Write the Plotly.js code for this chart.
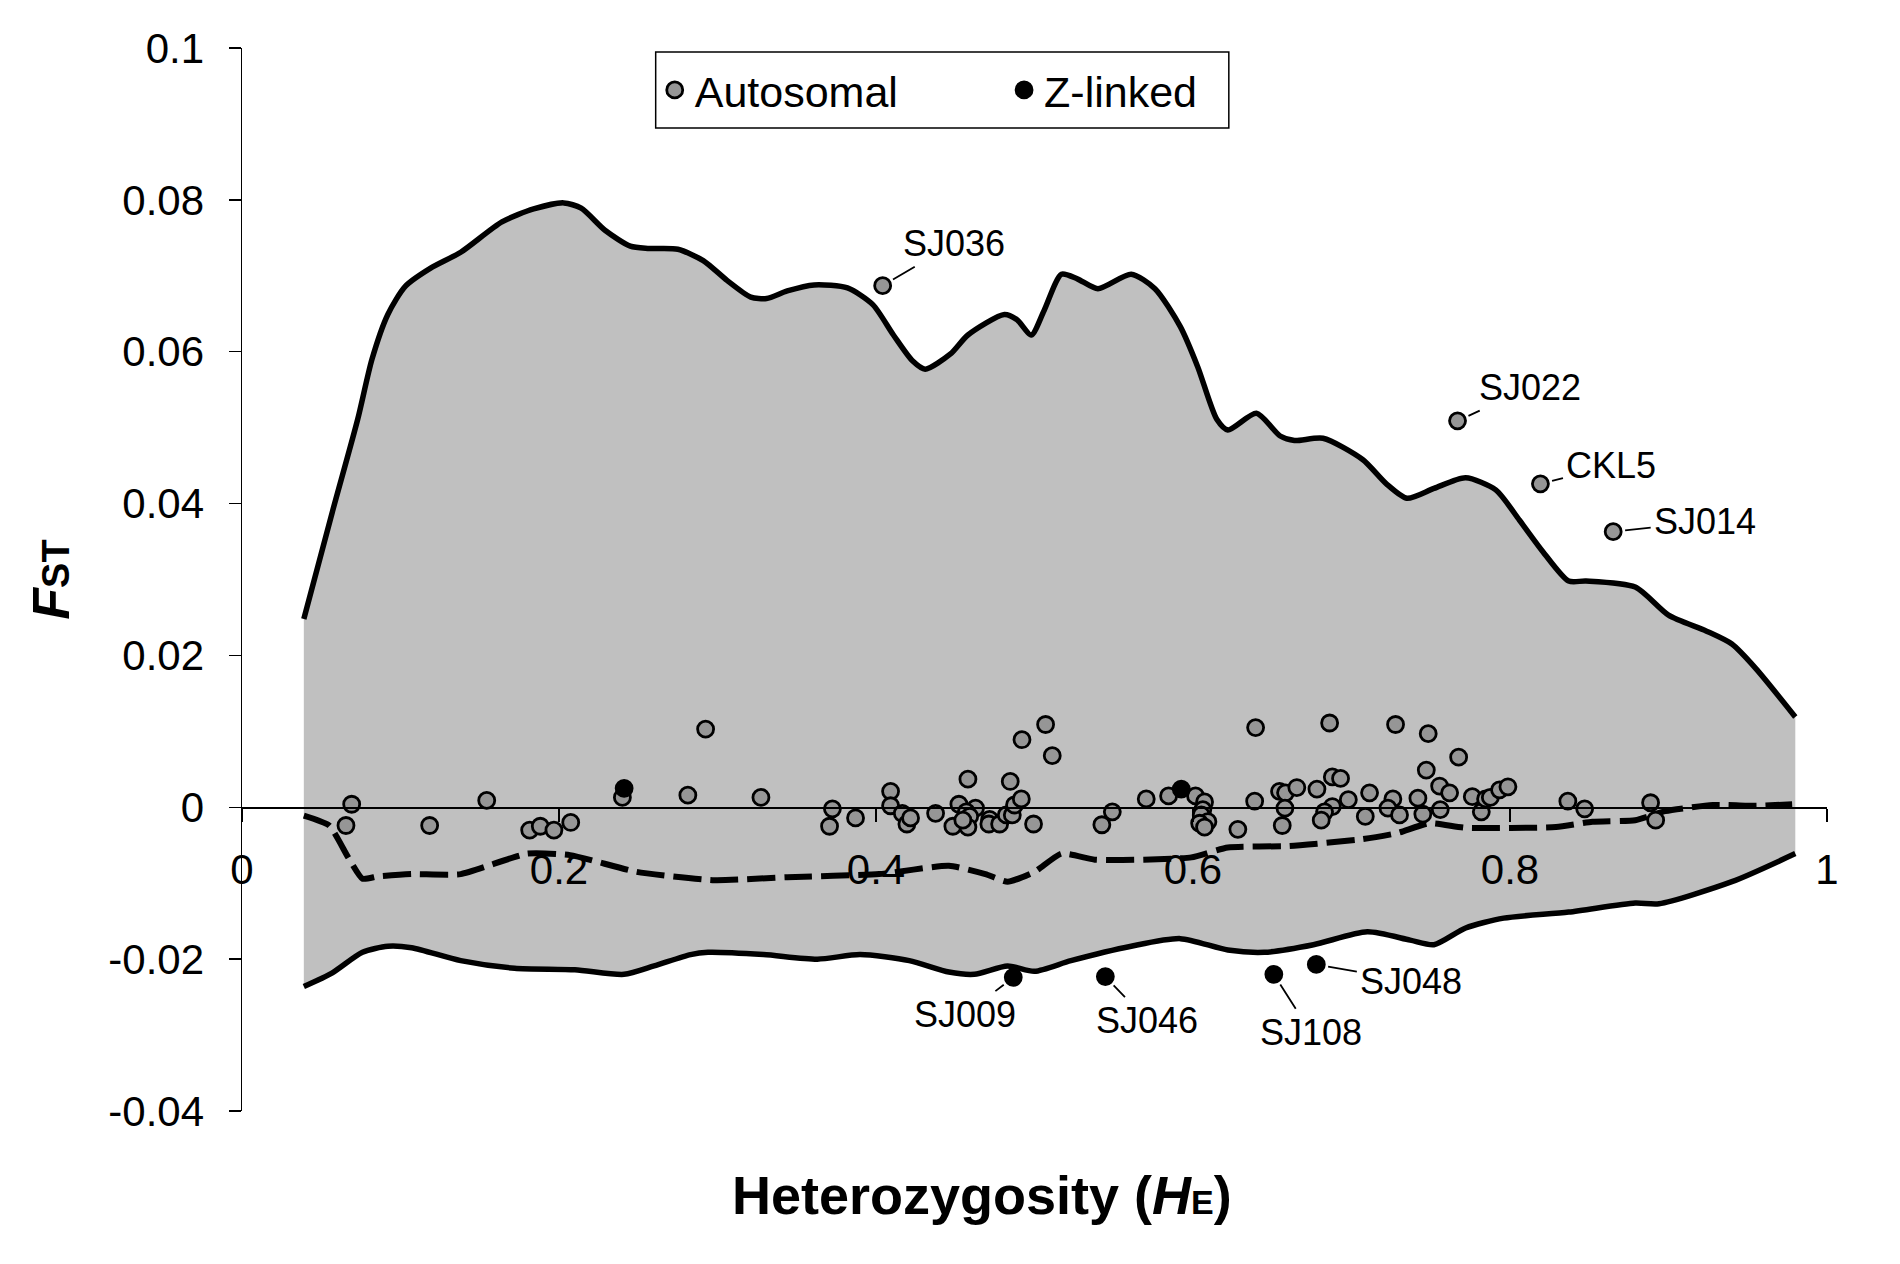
<!DOCTYPE html>
<html>
<head>
<meta charset="utf-8">
<script src="https://cdn.plot.ly/plotly-3.0.1.min.js"></script>
<style>
  html, body { margin: 0; padding: 0; background: #fff; }
  #chart { width: 1900px; height: 1264px; }
</style>
</head>
<body>
<div id="chart"></div>
<script>
// --- data ---
// simulated upper / lower bound of Fst and the median (dashed)
var upperX = [0.039,0.057,0.073,0.082,0.092,0.103,0.119,0.138,0.164,0.184,0.203,0.214,0.229,0.245,0.256,0.275,0.291,0.306,0.321,0.331,0.344,0.361,0.382,0.398,0.411,0.423,0.431,0.447,0.458,0.481,0.489,0.498,0.506,0.517,0.527,0.540,0.561,0.576,0.592,0.603,0.615,0.622,0.640,0.655,0.664,0.682,0.707,0.722,0.735,0.752,0.772,0.791,0.806,0.821,0.837,0.848,0.879,0.900,0.924,0.940,0.955,0.980];
var upperY = [0.0248,0.0389,0.0511,0.0590,0.0649,0.0686,0.0710,0.0731,0.0771,0.0788,0.0796,0.0789,0.0760,0.0739,0.0736,0.0735,0.0720,0.0694,0.0672,0.0670,0.0680,0.0688,0.0684,0.0662,0.0622,0.0588,0.0577,0.0597,0.0622,0.0649,0.0642,0.0622,0.0654,0.0702,0.0696,0.0683,0.0702,0.0683,0.0633,0.0580,0.0511,0.0497,0.0519,0.0489,0.0483,0.0486,0.0458,0.0426,0.0407,0.0420,0.0434,0.0418,0.0378,0.0336,0.0298,0.0298,0.0290,0.0253,0.0232,0.0215,0.0183,0.0119];

var lowerX = [0.039,0.057,0.076,0.092,0.107,0.138,0.172,0.210,0.241,0.260,0.283,0.294,0.329,0.363,0.390,0.421,0.446,0.462,0.483,0.500,0.523,0.561,0.592,0.622,0.645,0.676,0.710,0.737,0.752,0.772,0.796,0.837,0.879,0.894,0.940,0.980];
var lowerY = [-0.0236,-0.0218,-0.0191,-0.0183,-0.0185,-0.0202,-0.0212,-0.0214,-0.0220,-0.0209,-0.0194,-0.0191,-0.0194,-0.0200,-0.0194,-0.0202,-0.0217,-0.0220,-0.0209,-0.0216,-0.0202,-0.0183,-0.0173,-0.0188,-0.0191,-0.0181,-0.0164,-0.0175,-0.0181,-0.0159,-0.0146,-0.0138,-0.0126,-0.0127,-0.0098,-0.0061];

var medianX = [0.039,0.055,0.067,0.076,0.086,0.107,0.138,0.180,0.207,0.249,0.298,0.344,0.402,0.446,0.469,0.483,0.500,0.517,0.538,0.569,0.599,0.622,0.661,0.707,0.729,0.749,0.772,0.829,0.852,0.879,0.898,0.928,0.955,0.978];
var medianY = [-0.0011,-0.0024,-0.0066,-0.0094,-0.0091,-0.0088,-0.0088,-0.0061,-0.0063,-0.0085,-0.0096,-0.0092,-0.0088,-0.0077,-0.0088,-0.0098,-0.0085,-0.0061,-0.0069,-0.0069,-0.0066,-0.0053,-0.0051,-0.0042,-0.0034,-0.0021,-0.0027,-0.0026,-0.0019,-0.0017,-0.0005,0.0003,0.0002,0.0004];

// loci
var autoX = [0.0692,0.0656,0.1184,0.1544,0.1815,0.1882,0.1968,0.2074,0.2400,0.2813,0.2925,0.3274,0.3725,0.3707,
  0.3871,0.4092,0.4092,0.4166,0.4195,0.4218,0.4376,0.4580,0.4523,0.4628,0.4570,0.4591,0.4485,0.4580,0.4548,0.4717,0.4712,0.4780,0.4822,0.4860,0.4874,0.4917,0.4847,0.4921,0.5070,0.5112,0.4994,0.5425,0.5491,0.5705,0.5846,0.6016,0.6073,0.6062,0.6052,0.6094,0.6042,0.6073,
  0.6283,0.6389,0.6395,0.6546,0.6584,0.6580,0.6563,0.6655,0.6782,0.6862,0.6879,0.6931,0.6879,0.6830,0.6809,0.6980,0.7114,0.7087,0.7261,0.7278,0.7230,0.7303,0.7419,0.7450,0.7484,0.7472,0.7556,0.7619,0.7560,0.7676,0.7762,0.7819,0.7846,0.7876,0.7934,0.7987,0.8365,0.8471,0.8887,0.8919];
var autoY = [0.0004,-0.0024,-0.0024,0.0009,-0.0030,-0.0025,-0.0030,-0.0020,0.0013,0.0016,0.0103,0.0013,-0.0002,-0.0025,
  -0.0014,0.0021,0.0002,-0.0008,-0.0022,-0.0014,-0.0008,0.0037,0.0004,-0.0001,-0.0006,-0.0012,-0.0025,-0.0026,-0.0017,-0.0016,-0.0022,-0.0022,-0.0010,-0.0010,0.0003,0.0011,0.0034,0.0089,0.0109,0.0068,-0.0022,-0.0023,-0.0006,0.0011,0.0015,0.0015,0.0007,-0.0003,-0.0010,-0.0019,-0.0021,-0.0026,
  -0.0029,0.0008,0.0105,0.0021,0.0019,-0.0001,-0.0024,0.0026,0.0024,0.0111,0.0040,0.0038,0.0001,-0.0006,-0.0017,0.0010,0.0019,-0.0012,0.0011,0.0109,-0.0001,-0.0010,0.0012,-0.0009,0.0097,0.0049,0.0028,0.0019,-0.0003,0.0066,0.0014,-0.0006,0.0011,0.0013,0.0023,0.0027,0.0008,-0.0002,0.0006,-0.0017];

var autoLabelNames = ['SJ036', 'SJ022', 'CKL5', 'SJ014'];
var autoLabelX = [0.4042, 0.7669, 0.8192, 0.8651];
var autoLabelY = [0.0687, 0.0509, 0.0426, 0.0363];

var zX = [0.2411, 0.5926];
var zY = [0.0025, 0.0024];

var zLabelNames = ['SJ009', 'SJ046', 'SJ108', 'SJ048'];
var zLabelX = [0.4866, 0.5447, 0.6510, 0.6778];
var zLabelY = [-0.0224, -0.0223, -0.0220, -0.0207];

var xTickVals = [0, 0.2, 0.4, 0.6, 0.8, 1];
var xTickText = ['0', '0.2', '0.4', '0.6', '0.8', '1'];
var yTickVals = [-0.04, -0.02, 0, 0.02, 0.04, 0.06, 0.08, 0.1];
var yTickText = ['-0.04', '-0.02', '0', '0.02', '0.04', '0.06', '0.08', '0.1'];

// --- drawing ---
var FONT = 'Liberation Sans, Arial, sans-serif';
var xRange = [0, 1];
var yRange = [-0.04, 0.1];

// text offsets (px) of the locus names from their points
var autoLabelOffsets = [[71, -42], [72, -33], [71, -18], [92, -10]];
var zLabelOffsets = [[-48, 37], [42, 44], [37, 58], [95, 17]];

var traces = [
  { x: lowerX, y: lowerY, mode: 'lines', line: {width: 0, color: 'rgba(0,0,0,0)', shape: 'spline', smoothing: 0.7},
    showlegend: false, hoverinfo: 'skip' },
  { x: upperX, y: upperY, mode: 'lines', fill: 'tonexty', fillcolor: '#C0C0C0',
    line: {width: 0, color: 'rgba(0,0,0,0)', shape: 'spline', smoothing: 0.7},
    showlegend: false, hoverinfo: 'skip' },
  { x: lowerX, y: lowerY, mode: 'lines', name: 'lower',
    line: {width: 5.5, color: '#000', shape: 'spline', smoothing: 0.7}, showlegend: false },
  { x: upperX, y: upperY, mode: 'lines', name: 'upper',
    line: {width: 5.5, color: '#000', shape: 'spline', smoothing: 0.7}, showlegend: false },
  { x: medianX, y: medianY, mode: 'lines', name: 'median',
    line: {width: 6, color: '#000', dash: '28px,9px', shape: 'spline', smoothing: 0.5}, showlegend: false },
  { x: autoX.concat(autoLabelX), y: autoY.concat(autoLabelY), mode: 'markers', name: 'Autosomal',
    marker: {size: 16, color: '#969696', line: {color: '#000', width: 2.8}}, legend: 'legend' },
  { x: zX.concat(zLabelX), y: zY.concat(zLabelY), mode: 'markers', name: 'Z-linked',
    marker: {size: 16, color: '#000', line: {color: '#000', width: 2.8}}, legend: 'legend2' }
];

var annotations = [];
function addLabels(names, xs, ys, offs) {
  names.forEach(function (n, i) {
    annotations.push({
      x: xs[i], y: ys[i], xref: 'x', yref: 'y', text: n,
      showarrow: true, arrowhead: 0, arrowwidth: 1.8, arrowcolor: '#000',
      ax: offs[i][0], ay: offs[i][1], standoff: 12, startstandoff: 2,
      font: {family: FONT, size: 36, color: '#000'}
    });
  });
}
addLabels(autoLabelNames, autoLabelX, autoLabelY, autoLabelOffsets);
addLabels(zLabelNames, zLabelX, zLabelY, zLabelOffsets);

annotations.push({
  xref: 'paper', yref: 'paper', x: 0.4667, y: -0.079, xanchor: 'center', yanchor: 'middle',
  showarrow: false,
  text: '<b>Heterozygosity (<i>H</i><span style="font-size:34px">E</span>)</b>',
  font: {family: FONT, size: 54, color: '#000'}
});

var legendCommon = {
  orientation: 'h', xanchor: 'left', yanchor: 'middle', y: 0.9605,
  bgcolor: 'rgba(0,0,0,0)', borderwidth: 0,
  font: {family: FONT, size: 43, color: '#000'}
};

var layout = {
  width: 1900, height: 1264, autosize: false,
  margin: {l: 242, r: 73, t: 48, b: 153, pad: 0},
  paper_bgcolor: '#fff', plot_bgcolor: '#fff',
  font: {family: FONT, color: '#000'},
  xaxis: {
    range: xRange, tickvals: xTickVals, ticktext: xTickText,
    anchor: 'free', position: (0 - yRange[0]) / (yRange[1] - yRange[0]),
    showline: true, linecolor: '#000', linewidth: 1.5,
    ticks: 'outside', ticklen: 13, tickwidth: 1.5, tickcolor: '#000',
    ticklabelstandoff: 12, showgrid: false, zeroline: false,
    tickfont: {family: FONT, size: 42, color: '#000'}
  },
  yaxis: {
    range: yRange, tickvals: yTickVals, ticktext: yTickText,
    showline: true, linecolor: '#000', linewidth: 1.5,
    ticks: 'outside', ticklen: 12, tickwidth: 1.5, tickcolor: '#000',
    ticklabelstandoff: 16, showgrid: false, zeroline: false,
    tickfont: {family: FONT, size: 42, color: '#000'},
    title: {
      text: '<b><i>F</i><span style="font-size:38px">ST</span></b>',
      font: {family: FONT, size: 52, color: '#000'}, standoff: 22
    }
  },
  legend: Object.assign({x: 0.2604}, legendCommon),
  legend2: Object.assign({x: 0.4808}, legendCommon),
  shapes: [{
    type: 'rect', xref: 'paper', yref: 'paper',
    x0: 0.261, x1: 0.6226, y0: 0.9247, y1: 0.9962,
    line: {color: '#000', width: 1.5}, fillcolor: '#fff', layer: 'below'
  }],
  annotations: annotations
};

Plotly.newPlot('chart', traces, layout, {staticPlot: true, displayModeBar: false});
</script>
</body>
</html>
